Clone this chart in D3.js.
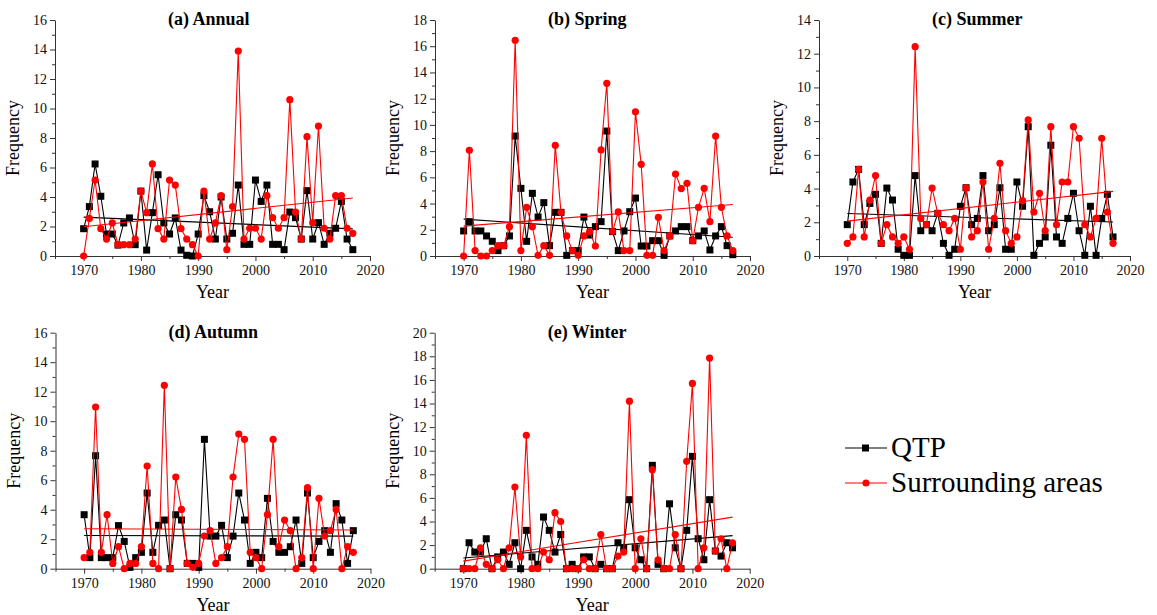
<!DOCTYPE html>
<html><head><meta charset="utf-8">
<script src="https://cdn.jsdelivr.net/npm/d3@7"></script>
<style>
body{margin:0;background:#fff;}
svg{display:block;font-family:"Liberation Serif","Times New Roman",serif;}
svg text{font-family:"Liberation Serif","Times New Roman",serif;}
</style></head>
<body><svg id="c" width="1157" height="615"></svg>
<script>
const years = d3.range(1970, 2018);
const seriesNames = ["QTP", "Surrounding areas"];
const panelTitles = ["(a) Annual", "(b) Spring", "(c) Summer", "(d) Autumn", "(e) Winter"];
const yMaxes = [16, 18, 14, 16, 20];
const xTicks = [1970, 1980, 1990, 2000, 2010, 2020];

const annualQTP = [1.85,3.35,6.24,4.05,1.49,1.49,0.74,2.24,2.58,0.77,4.4,0.4,2.94,5.51,2.24,1.49,2.58,0.4,0.05,0.0,1.49,4.09,3.0,1.15,4.0,1.15,1.54,4.81,0.79,0.79,5.15,3.7,4.81,0.79,0.79,0.43,2.98,2.6,1.15,4.43,1.15,2.26,0.79,1.54,1.88,3.7,1.15,0.43];
const annualSur = [0,2.55,5.15,1.85,1.15,2.24,0.77,0.77,0.77,1.15,4.4,2.94,6.24,1.85,1.15,5.15,4.81,1.85,1.15,0.77,0,4.4,1.15,2.24,4.09,0.43,3.35,13.9,1.15,1.88,1.88,1.15,4.09,2.6,1.88,2.6,10.6,2.98,1.15,8.09,2.26,8.81,1.88,1.15,4.09,4.09,1.88,1.54];
const springQTP = [1.91,2.62,1.91,1.91,1.53,1.12,0.41,0.79,1.53,9.15,5.16,1.12,4.78,2.97,4.07,0.79,3.33,3.33,0.05,0.41,0.41,2.97,1.6,2.24,2.62,9.53,1.86,0.41,1.91,3.38,4.42,0.76,0.76,1.17,1.17,0.05,1.53,1.91,2.24,2.24,1.17,1.53,1.91,0.46,1.53,2.24,0.79,0.1];
const springSur = [0,8.06,0.41,0,0,0.41,0.79,0.79,2.24,16.45,0.41,3.71,2.24,0.05,0.79,0.05,8.44,3.33,1.53,0.41,0.05,1.53,1.86,0.76,8.09,13.17,1.86,3.36,0.41,0.41,11.0,6.99,0.05,0.05,2.95,0.41,1.53,6.25,5.14,5.54,1.17,3.71,5.16,2.62,9.15,3.71,1.53,0.41];
const summerQTP = [1.86,4.39,5.14,1.86,3.12,3.66,0.75,4.03,3.32,0.4,0.04,0.04,4.77,1.5,1.86,1.5,2.53,0.75,0.04,0.4,2.95,4.05,1.86,2.23,4.77,1.5,1.86,4.05,0.4,0.4,4.39,2.95,7.67,0.04,0.75,1.13,6.57,1.13,0.75,2.23,3.72,1.5,0.04,2.95,0.04,2.23,3.66,1.13];
const summerSur = [0.75,1.13,5.14,1.13,3.32,4.77,0.75,1.86,1.13,0.75,1.13,0.4,12.42,2.23,1.86,4.03,2.53,1.86,1.5,2.23,0.4,4.05,1.13,1.5,4.39,0.4,2.23,5.5,1.5,0.75,1.13,3.28,8.07,2.61,3.72,1.5,7.67,1.86,4.39,4.39,7.67,6.98,1.86,1.13,2.23,6.98,2.61,0.75];
const autumnQTP = [3.66,0.75,7.66,0.75,0.75,0.75,2.92,1.85,0.09,0.75,1.11,5.13,1.11,2.94,3.3,0,3.66,3.3,0.36,0.36,0.09,8.77,2.21,2.21,2.94,0.75,2.21,5.13,3.3,0.36,1.11,0.75,4.77,1.85,1.11,1.11,1.49,3.3,0.36,5.13,0.75,1.85,2.58,1.11,4.41,3.3,0.36,2.58];
const autumnSur = [0.75,1.11,10.96,1.11,3.66,0.36,1.49,0,0.36,0.36,1.49,6.96,0.36,0,12.43,0,6.21,4.02,0.36,0.09,0.36,2.21,2.58,0.36,0.75,1.49,6.21,9.13,8.77,1.11,0.75,0,3.66,8.77,1.49,3.3,2.58,0,0.75,5.49,0,4.77,2.21,2.58,4.02,0,1.49,1.11];
const winterQTP = [0,2.2,1.41,1.41,2.54,0,1.0,1.41,0.37,2.2,0,3.25,1.0,0.37,4.38,3.25,1.41,2.9,0,0.37,0,1.0,1.0,0,0.37,0,0,2.2,1.77,5.85,1.77,0.76,0,8.76,0.37,0,5.5,1.77,0,3.25,9.52,2.54,0.76,5.85,1.5,1.07,2.2,1.77];
const winterSur = [0,0,0,1.77,0.37,0,0.76,0,1.77,6.92,1.0,11.3,0,0,1.41,0.76,4.75,4.0,0,0,0,0.76,0,0,2.9,0,0,1.07,1.41,14.2,0,2.54,0,8.39,0.76,0,0,2.9,0,9.1,15.7,0,1.77,17.85,1.5,2.54,0,2.2];

const qtpSeries = [annualQTP, springQTP, summerQTP, autumnQTP, winterQTP];
const surSeries = [annualSur, springSur, summerSur, autumnSur, winterSur];

// layout (pixel geometry only)
const layout = [
  {l:55, r:370, t:20, b:256},
  {l:435, r:750, t:20, b:256},
  {l:819, r:1130, t:20, b:256},
  {l:55.5, r:370.5, t:332.7, b:568.7},
  {l:434.7, r:749.7, t:332.7, b:568.7}
];
const colors = ["#000000", "#ff0000"];
const FONT = "'Liberation Serif', 'Times New Roman', serif";

const svg = d3.select("#c");

function regression(xs, ys){
  const n = xs.length, mx = d3.mean(xs), my = d3.mean(ys);
  let sxy=0, sxx=0;
  for(let i=0;i<n;i++){sxy+=(xs[i]-mx)*(ys[i]-my); sxx+=(xs[i]-mx)**2;}
  const b = sxy/sxx; return x => my + b*(x-mx);
}

panelTitles.forEach((title, pi) => {
  const L = layout[pi];
  const ymax = yMaxes[pi];
  const x = d3.scaleLinear().domain([1965, 2020]).range([L.l, L.r]);
  const y = d3.scaleLinear().domain([0, ymax]).range([L.b, L.t]);
  const g = svg.append("g");

  // minor ticks
  const yMinor = d3.range(1, ymax, 2);
  g.append("g").attr("transform", `translate(${L.l},0)`)
    .call(d3.axisLeft(y).tickValues(yMinor).tickSize(3).tickFormat(""))
    .call(s => s.select(".domain").remove())
    .call(s => s.selectAll("line").attr("stroke", "#333"));
  g.append("g").attr("transform", `translate(0,${L.b})`)
    .call(d3.axisBottom(x).tickValues([1965,1975,1985,1995,2005,2015]).tickSize(3).tickFormat(""))
    .call(s => s.select(".domain").remove())
    .call(s => s.selectAll("line").attr("stroke", "#333"));

  // major axes
  const ay = g.append("g").attr("transform", `translate(${L.l},0)`)
    .call(d3.axisLeft(y).tickValues(d3.range(0, ymax + 0.1, 2)).tickFormat(d3.format("d")).tickSize(5).tickSizeOuter(0).tickPadding(3));
  const ax = g.append("g").attr("transform", `translate(0,${L.b})`)
    .call(d3.axisBottom(x).tickValues(xTicks).tickFormat(d3.format("d")).tickSize(5).tickSizeOuter(0).tickPadding(4));
  [ay, ax].forEach(a => {
    a.attr("font-family", null).attr("font-size", null);
    a.selectAll("text").style("font-family", FONT).style("font-size", "14px").attr("fill", "#111");
    a.selectAll("line").attr("stroke", "#333");
    a.select(".domain").attr("stroke", "#333");
  });

  // titles
  g.append("text").attr("x", L.l + 113).attr("y", L.t + 5)
    .style("font-family", FONT).attr("font-weight", "bold").style("font-size", "18px")
    .text(title);
  g.append("text")
    .attr("transform", `translate(${L.l - 36},${(L.t + L.b) / 2}) rotate(-90)`)
    .attr("text-anchor", "middle").style("font-size", "18px").style("font-family", FONT)
    .text("Frequency");
  g.append("text").attr("x", (L.l + L.r) / 2).attr("y", L.b + 42)
    .attr("text-anchor", "middle").style("font-size", "18px").style("font-family", FONT)
    .text("Year");

  [qtpSeries[pi], surSeries[pi]].forEach((vals, si) => {
    const data = years.map((yr, i) => ({yr, v: vals[i]}));
    const col = colors[si];
    const f = regression(years, vals);
    g.append("line")
      .attr("x1", x(1970)).attr("y1", y(f(1970)))
      .attr("x2", x(2017)).attr("y2", y(f(2017)))
      .attr("stroke", col).attr("stroke-width", 1.1);
    g.append("path").datum(data)
      .attr("fill", "none").attr("stroke", col).attr("stroke-width", 1.1)
      .attr("d", d3.line().x(d => x(d.yr)).y(d => y(d.v)));
    if (si === 0) {
      g.selectAll(null).data(data).enter().append("rect")
        .attr("x", d => x(d.yr) - 3.5).attr("y", d => y(d.v) - 3.5)
        .attr("width", 7).attr("height", 7).attr("fill", col);
    } else {
      g.selectAll(null).data(data).enter().append("circle")
        .attr("cx", d => x(d.yr)).attr("cy", d => y(d.v)).attr("r", 3.6).attr("fill", col);
    }
  });
});

// legend
const lg = svg.append("g");
seriesNames.forEach((name, i) => {
  const yy = 448 + i * 35;
  lg.append("line").attr("x1", 845).attr("x2", 887).attr("y1", yy).attr("y2", yy)
    .attr("stroke", colors[i]).attr("stroke-width", 1.2);
  if (i === 0) lg.append("rect").attr("x", 862).attr("y", yy - 3.5).attr("width", 7).attr("height", 7).attr("fill", colors[i]);
  else lg.append("circle").attr("cx", 866).attr("cy", yy).attr("r", 3.6).attr("fill", colors[i]);
  lg.append("text").attr("x", 891).attr("y", yy + 9).style("font-size", "29px")
    .style("font-family", FONT).text(name);
});
</script></body></html>
